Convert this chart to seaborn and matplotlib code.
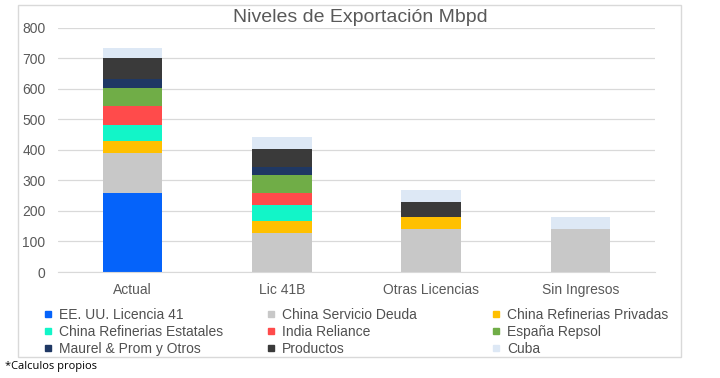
import pandas as pd
import numpy as np
import matplotlib.pyplot as plt
import seaborn as sns
from matplotlib.lines import Line2D
from matplotlib.patches import Rectangle

# DATOS (Mbpd)

categorias = ["Actual", "Lic 41B", "Otras Licencias", "Sin Ingresos"]

series = [
    "EE. UU. Licencia 41",
    "China Servicio Deuda",
    "China Refinerias Privadas",
    "China Refinerias Estatales",
    "India Reliance",
    "España Repsol",
    "Maurel & Prom y Otros",
    "Productos",
    "Cuba",
]

eeuu_lic41 = [260, 0, 0, 0]
china_servicio_deuda = [130, 128, 140, 140]
china_ref_privadas = [40, 40, 40, 0]
china_ref_estatales = [50, 50, 0, 0]
india_reliance = [64, 40, 0, 0]
espana_repsol = [60, 60, 0, 0]
maurel_prom = [28, 25, 0, 0]
productos = [70, 60, 50, 0]
cuba = [30, 40, 40, 40]

colores = [
    "#0563fa", "#c8c8c8", "#ffc000", "#12f5c8", "#ff4b4b",
    "#70ad47", "#1f3864", "#3a3a3a", "#dde8f5",
]

valores = [eeuu_lic41, china_servicio_deuda, china_ref_privadas,
           china_ref_estatales, india_reliance, espana_repsol,
           maurel_prom, productos, cuba]

data = pd.DataFrame(dict(zip(series, valores)))
data.insert(0, "categoria", categorias)

# acumulados para apilar
acum = data[series].cumsum(axis=1)
acum["categoria"] = categorias

# FIGURA

sns.set_style("white")
plt.rcParams["font.family"] = ["Liberation Sans", "DejaVu Sans"]

fig = plt.figure(figsize=(7.2, 3.78), dpi=100)
ax = fig.add_axes([58 / 720, 1 - 272 / 378, (655 - 58) / 720, (272 - 27.7) / 378])

for serie, color in reversed(list(zip(series, colores))):
    sns.barplot(data=acum, x="categoria", y=serie, color=color, width=0.4,
                saturation=1, errorbar=None, linewidth=0, ax=ax)

ax.set_ylim(0, 800)
ax.set_yticks(np.arange(0, 801, 100))
ax.yaxis.grid(True, color="#d9d9d9", linewidth=0.9)
ax.set_axisbelow(True)
for s in ["top", "right", "left"]:
    ax.spines[s].set_visible(False)
ax.spines["bottom"].set_color("#d9d9d9")
ax.tick_params(axis="both", length=0, labelsize=10, colors="#595959")
ax.tick_params(axis="y", pad=9)
ax.tick_params(axis="x", pad=8)
ax.set_xlabel("")
ax.set_ylabel("")

fig.text(0.5, 1 - 18 / 378, "Niveles de Exportación Mbpd", ha="center",
         va="center", fontsize=14, color="#595959")

# LEYENDA (3 columnas, orden por filas)

handles = [Line2D([], [], marker="s", linestyle="none", markersize=4.5,
                  markerfacecolor=c, markeredgecolor=c) for c in colores]

for col, x in enumerate([44, 267, 492]):
    idx = [col, col + 3, col + 6]
    fig.legend([handles[i] for i in idx], [series[i] for i in idx],
               loc="upper left", bbox_to_anchor=(x / 720, 1 - 308 / 378),
               frameon=False, fontsize=10, labelcolor="#505050",
               handlelength=0.6, handletextpad=0.5, labelspacing=0.2,
               borderpad=0, borderaxespad=0)

fig.text(5 / 720, 1 - 366 / 378, "*Calculos propios", ha="left", va="center",
         fontsize=8, color="black", family=["Open Sans", "DejaVu Sans"])

fig.patches.append(Rectangle((18 / 720, 1 - 357 / 378), (681 - 18) / 720,
                             (357 - 5) / 378, transform=fig.transFigure,
                             fill=False, edgecolor="#d9d9d9", linewidth=1))

plt.savefig("out.png", dpi=100)
